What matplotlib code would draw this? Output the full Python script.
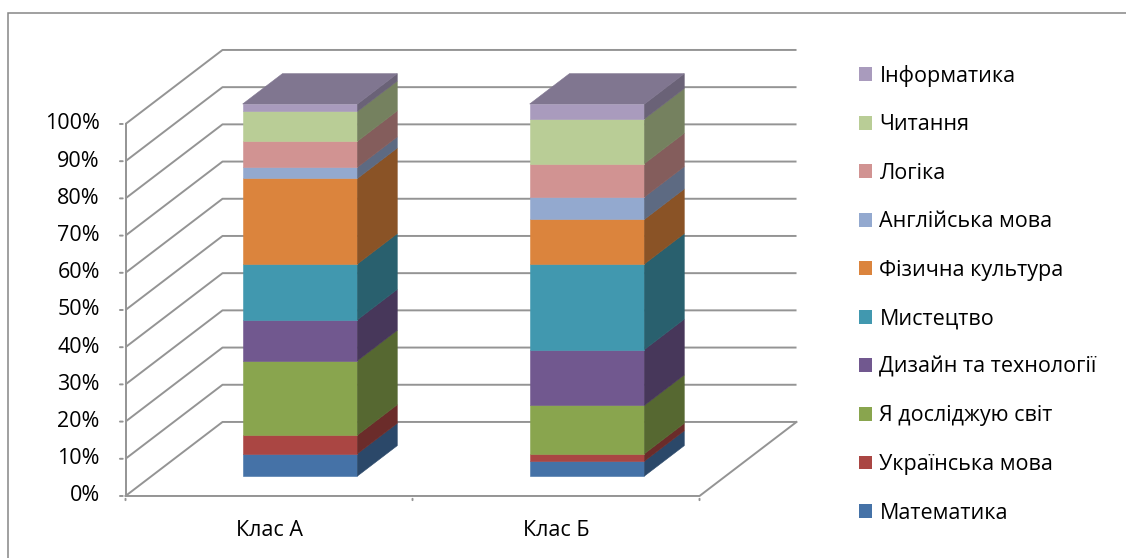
import numpy as np
import matplotlib
matplotlib.use('Agg')
from matplotlib import pyplot as plt
from matplotlib.patches import Polygon, Patch, Rectangle
from matplotlib import colors as mcolors

plt.rcParams['font.family'] = ['Open Sans', 'DejaVu Sans']

# subjects, bottom to top of each stacked column
subjects = ['Математика', 'Українська мова', 'Я досліджую світ',
            'Дизайн та технології', 'Мистецтво', 'Фізична культура',
            'Англійська мова', 'Логіка', 'Читання', 'Інформатика']
classes = ['Клас А', 'Клас Б']
class_a = [6, 5, 20, 11, 15, 23, 3, 7, 8, 2]
class_b = [4, 2, 13, 15, 23, 12, 6, 9, 12, 4]
y_ticks = [0, 10, 20, 30, 40, 50, 60, 70, 80, 90, 100]
y_ticklabels = ['%d%%' % t for t in y_ticks]

face_colors = ['#4572A7', '#AA4643', '#89A54E', '#71588F', '#4198AF',
               '#DB843D', '#93A9CF', '#D19392', '#B9CD96', '#A99BBD']

# oblique "3d" look: depth vector in data units (x, percent)
DX, DY = 0.338, 19.9
bar_d0, bar_d1 = 0.27, 0.68     # bar depth range (fraction of floor depth)
bar_half = 0.2
bar_shift = 0.017
x_left, x_right = -0.5, 1.5
grid_c = '#949494'


def shade(c, f):
    r, g, b = mcolors.to_rgb(c)
    return (r * f, g * f, b * f)


def proj(x, y, d):
    return (x + DX * d, y + DY * d)


fig = plt.figure(figsize=(11.26, 5.58), dpi=100)
ax = fig.add_axes([0, 0, 1, 1])
ax.set_xlim(-0.9373, 2.986)
ax.set_ylim(-16.67, 133.33)
ax.axis('off')

# outer chart frame
fig.patches.append(Rectangle((8 / 1126, -0.1), 1.2, (558 - 13) / 558 + 0.1,
                             transform=fig.transFigure, fill=False,
                             edgecolor='#868686', lw=1.1))

# walls: left diagonal + back wall line for every tick
for t in y_ticks:
    p0 = (x_left, t)
    p1 = proj(x_left, t, 1)
    p2 = proj(x_right, t, 1)
    ax.plot([p0[0], p1[0], p2[0]], [p0[1], p1[1], p2[1]],
            color=grid_c, lw=1.4, zorder=1, solid_capstyle='butt')
# floor front edge and right diagonal
fr = proj(x_right, 0, 1)
ax.plot([x_left, x_right, fr[0]], [0, 0, fr[1]], color=grid_c, lw=1.4, zorder=1)

# value axis
ax.plot([x_left, x_left], [0, 100], color=grid_c, lw=1.4, zorder=1)
for t, lab in zip(y_ticks, y_ticklabels):
    ax.annotate('', xy=(x_left, t), xytext=(-6, 0), textcoords='offset points',
                arrowprops=dict(arrowstyle='-', color=grid_c, lw=1.4))
    ax.annotate(lab, xy=(x_left, t), xytext=(-18.5, 0), textcoords='offset points',
                ha='right', va='center', fontsize=15.5, color='black')

# category axis ticks and labels
for xt in [x_left, 0.5, x_right]:
    ax.annotate('', xy=(xt, 0), xytext=(0, -5), textcoords='offset points',
                arrowprops=dict(arrowstyle='-', color=grid_c, lw=1.4))
for i, name in enumerate(classes):
    ax.annotate(name, xy=(i, 0), xytext=(0, -25), textcoords='offset points',
                ha='center', va='center', fontsize=15.5, color='black')

# stacked columns
for i, vals in enumerate([class_a, class_b]):
    x0 = i + bar_shift - bar_half
    x1 = i + bar_shift + bar_half
    bottom = 0
    for v, c in zip(vals, face_colors):
        top = bottom + v
        front = [proj(x0, bottom, bar_d0), proj(x1, bottom, bar_d0),
                 proj(x1, top, bar_d0), proj(x0, top, bar_d0)]
        side = [proj(x1, bottom, bar_d0), proj(x1, bottom, bar_d1),
                proj(x1, top, bar_d1), proj(x1, top, bar_d0)]
        ax.add_patch(Polygon(front, closed=True, facecolor=c, edgecolor=c,
                             lw=0.4, zorder=3))
        ax.add_patch(Polygon(side, closed=True, facecolor=shade(c, 0.63),
                             edgecolor=shade(c, 0.63), lw=0.4, zorder=3))
        bottom = top
    lid = [proj(x0, bottom, bar_d0), proj(x1, bottom, bar_d0),
           proj(x1, bottom, bar_d1), proj(x0, bottom, bar_d1)]
    ax.add_patch(Polygon(lid, closed=True, facecolor=shade(face_colors[-1], 0.76),
                         edgecolor=shade(face_colors[-1], 0.76), lw=0.4, zorder=4))

# legend, top entry is the last series
handles = [Patch(facecolor=c, edgecolor='none', label=s)
           for s, c in zip(subjects, face_colors)][::-1]
fig.legend(handles=handles, loc='upper left', bbox_to_anchor=(850 / 1126, 1 - 56 / 558),
           frameon=False, fontsize=15.5, handlelength=0.62, handleheight=0.62,
           handletextpad=0.35, labelspacing=1.28, borderaxespad=0)

fig.savefig('out.png', dpi=100)
